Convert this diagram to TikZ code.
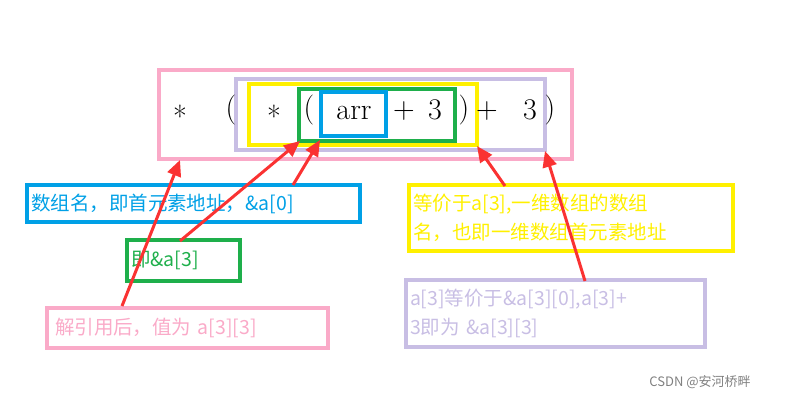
\documentclass[tikz,border=0pt]{standalone}
\usepackage{fontspec}
\newfontfamily\cjk{Noto Sans CJK SC}
\usetikzlibrary{arrows.meta}
\definecolor{cpink}{RGB}{250,170,200}
\definecolor{clav}{RGB}{200,190,228}
\definecolor{cyel}{RGB}{255,240,0}
\definecolor{cgreen}{RGB}{30,175,75}
\definecolor{cblue}{RGB}{0,160,230}
\definecolor{cred}{RGB}{250,50,50}
\begin{document}
\begin{tikzpicture}[x=1pt,y=-1pt,
  bx/.style={line width=4pt},
  lbl/.style={line width=4pt,draw,inner sep=4pt,align=left,font=\cjk\fontsize{19.5}{29}\selectfont},
  ch/.style={font=\fontsize{30}{32}\selectfont},
  arr/.style={draw=cred,line width=3pt,-{Triangle[length=16pt,width=14pt]}}]
\useasboundingbox (0,0) rectangle (793,401);
\draw[bx,cpink] (159,70) rectangle (572,159);
\draw[bx,clav] (236,79) rectangle (545,150);
\draw[bx,cyel] (249,84) rectangle (477,145);
\draw[bx,cgreen] (299,89) rectangle (455,141);
\draw[bx,cblue] (321,92) rectangle (386,136);
\node[ch] (s1) at (180,116) {*};
\node[ch] (p1) at (231,110) {(};
\node[ch] (s2) at (274,116) {*};
\node[ch] (p2) at (309,110) {(};
\node[ch] (arr) at (354,113) {arr};
\node[ch] (pl1) at (404,111) {+};
\node[ch] (t1) at (435,110) {3};
\node[ch] (p3) at (464,110) {)};
\node[ch] (pl2) at (487,111) {+};
\node[ch] (t2) at (530,110) {3};
\node[ch] (p4) at (550,110) {)};
\node[lbl,draw=cblue,text=cblue,minimum height=37pt,text width=325pt] (lb) at (193.5,203.5) {数组名，即首元素地址，\&a[0]};
\node[lbl,draw=cgreen,text=cgreen,minimum height=41pt,text width=105pt] (lg) at (183.5,260.5) {即\&a[3]};
\node[lbl,draw=cpink,text=cpink,minimum height=40pt,text width=273pt] (lp) at (187.5,328) {\hspace*{4pt}解引用后，值为 a[3][3]};
\node[lbl,draw=cyel,text=cyel,minimum height=66pt,text width=316pt] (ly) at (571,218) {等价于a[3],一维数组的数组\\名，也即一维数组首元素地址};
\node[lbl,draw=clav,text=clav,minimum height=67pt,text width=291pt] (ll) at (555.5,313.5) {a[3]等价于\&a[3][0],a[3]+\\3即为 \&a[3][3]};
\node[font=\cjk\fontsize{13}{15}\selectfont,text=gray] (wm) at (700,382) {CSDN @安河桥畔};
\coordinate (h1) at (180,160);
\coordinate (h2) at (300,141);
\coordinate (h3) at (320,140);
\coordinate (h4) at (477,146);
\coordinate (h5) at (545,151);
\coordinate (t1) at (122,306);
\coordinate (t2) at (180,241);
\coordinate (t3) at (293,185);
\coordinate (t4) at (505,186);
\coordinate (t5) at (585,281);
\draw[arr] (t1) -- (h1);
\draw[arr] (t2) -- (h2);
\draw[arr] (t3) -- (h3);
\draw[arr] (t4) -- (h4);
\draw[arr] (t5) -- (h5);
\end{tikzpicture}
\end{document}
